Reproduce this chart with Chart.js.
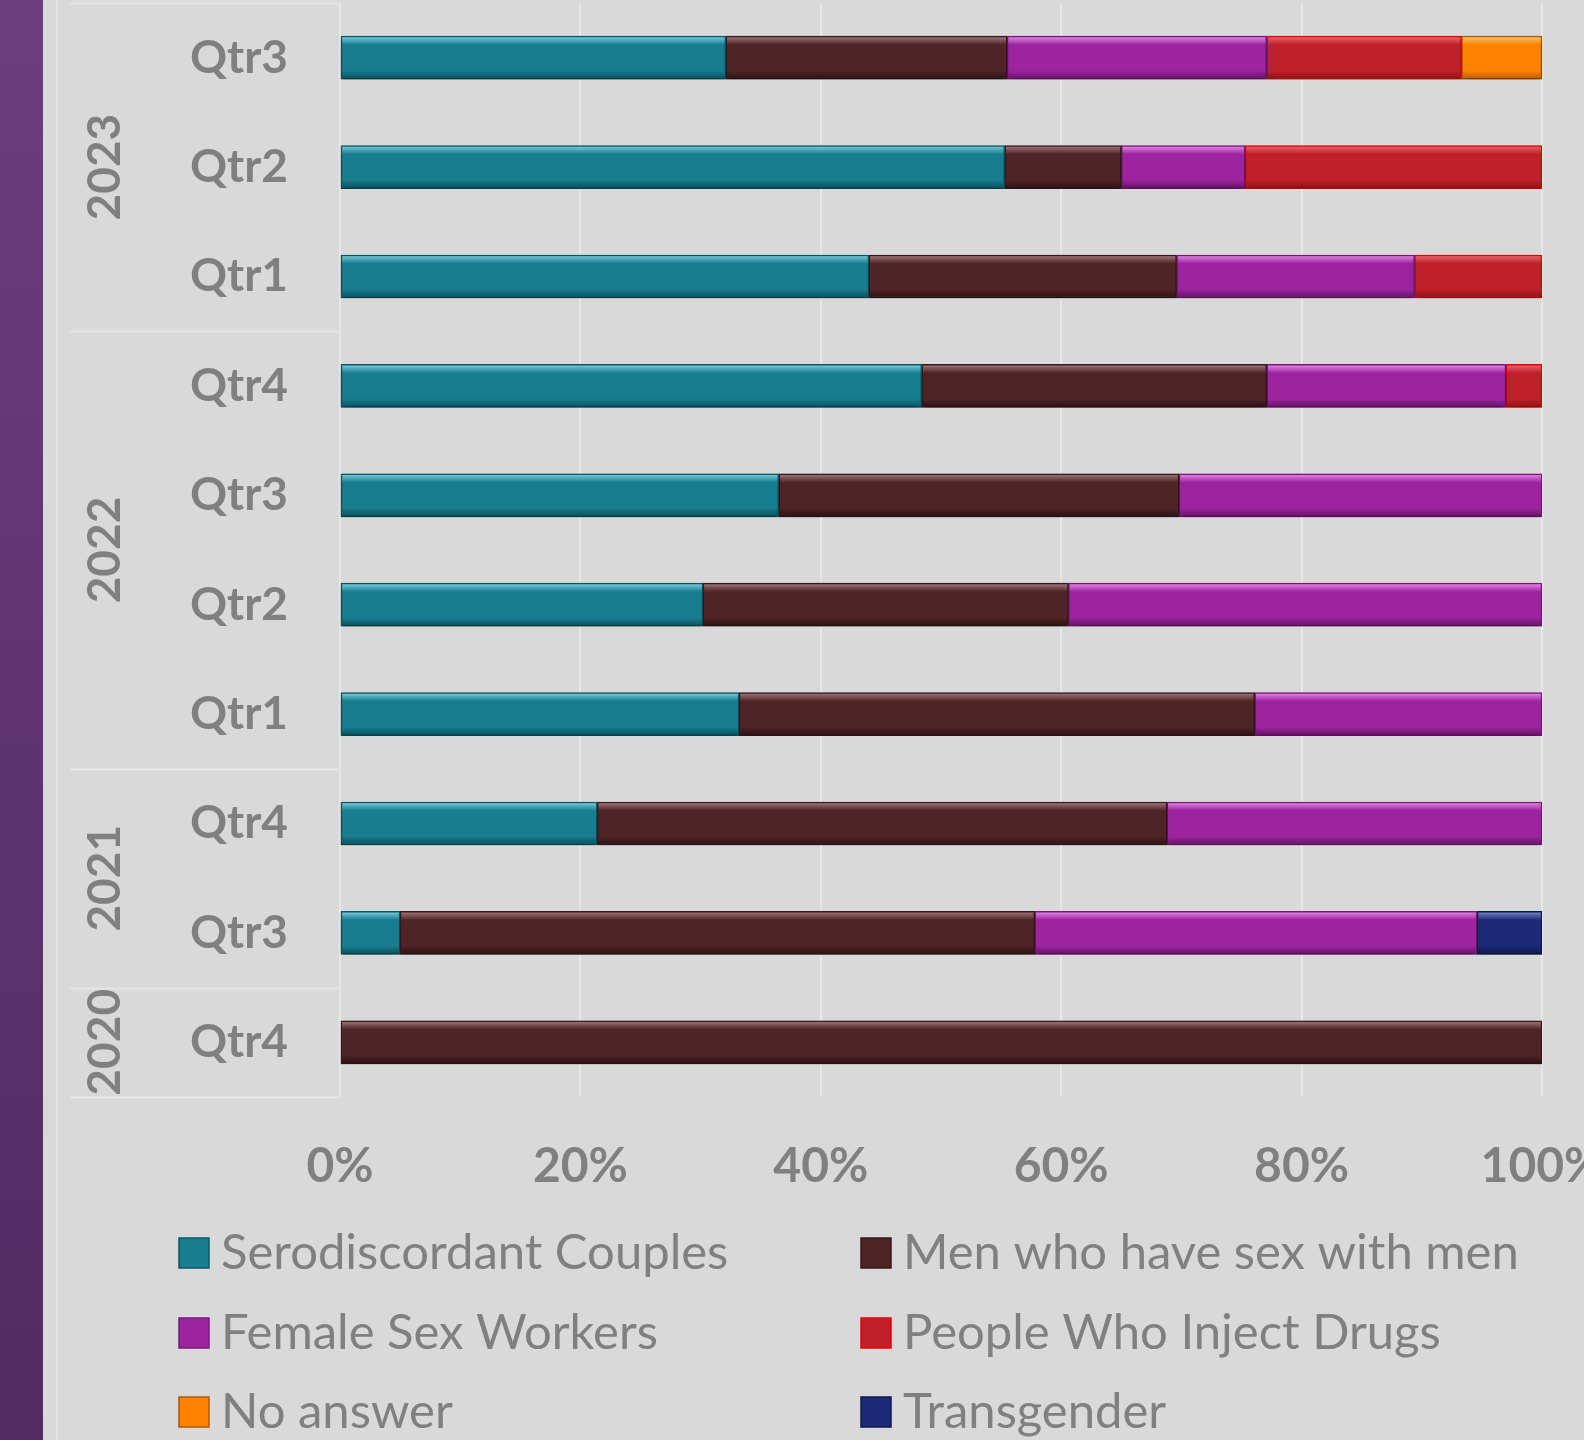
<!DOCTYPE html>
<html>
<head>
<meta charset="utf-8">
<script src="https://cdn.jsdelivr.net/npm/chart.js@4.4.1/dist/chart.umd.min.js"></script>
<style>
  html, body { margin: 0; padding: 0; background: #d9d9d9; }
  #wrap { width: 1584px; height: 1440px; position: relative; }
</style>
</head>
<body>
<div id="wrap"><canvas id="keyPopChart"></canvas></div>
<script>
// ---- data (top row first) ----
const years = ["2023", "2022", "2021", "2020"];
const yearSpans = [3, 4, 2, 1];
const quarters = ["Qtr3", "Qtr2", "Qtr1", "Qtr4", "Qtr3", "Qtr2", "Qtr1", "Qtr4", "Qtr3", "Qtr4"];
const serodiscordant = [32.1, 55.3, 44.0, 48.4, 36.5, 30.2, 33.2, 21.4, 5.0, null];
const msm            = [23.4, 9.7, 25.6, 28.7, 33.3, 30.4, 42.9, 47.4, 52.8, 100];
const fsw            = [21.6, 10.3, 19.8, 19.9, 30.2, 39.4, 23.9, 31.2, 36.8, null];
const pwid           = [16.2, 24.7, 10.6, 3.0, null, null, null, null, null, null];
const noAnswer       = [6.7, null, null, null, null, null, null, null, null, null];
const transgender    = [null, null, null, null, null, null, null, null, 5.4, null];
const xTicks = [0, 20, 40, 60, 80, 100];

const GREY = "#808080";
const FONT = "Lato";
const BAR_H = 43;

/* -------------------------------
   Bar fill with a little bevel
--------------------------------*/
function bevel(light, base, dark) {
  return c => {
    const y = c.chart.scales.y;
    if (!y || c.dataIndex === undefined) return base;
    const yc = y.getPixelForValue(c.dataIndex);
    if (!Number.isFinite(yc)) return base;
    const g = c.chart.ctx.createLinearGradient(0, yc - BAR_H / 2, 0, yc + BAR_H / 2);
    g.addColorStop(0, light);
    g.addColorStop(0.2, base);
    g.addColorStop(0.8, base);
    g.addColorStop(1, dark);
    return g;
  };
}

function series(label, data, light, base, dark, border) {
  return {
    label: label,
    data: data,
    swatch: base,
    swatchBorder: border,
    backgroundColor: bevel(light, base, dark),
    borderColor: border,
    borderWidth: 1.5,
    borderSkipped: false,
    barThickness: BAR_H
  };
}

const datasets = [
  series("Serodiscordant Couples", serodiscordant, "#7fd3e2", "#177d8f", "#0a4f5c", "#0d5a67"),
  series("Men who have sex with men", msm, "#a77c7e", "#4f2427", "#2e1113", "#3a1a1c"),
  series("Female Sex Workers", fsw, "#ea8cec", "#9c249f", "#661266", "#7a1a7d"),
  series("People Who Inject Drugs", pwid, "#ee6a70", "#bf2029", "#8c131a", "#f00000"),
  series("No answer", noAnswer, "#ffc87a", "#ff8200", "#bb5c00", "#b05a00"),
  series("Transgender", transgender, "#7d8dd0", "#1b2a78", "#0d184c", "#0d1a4a")
];

/* -------------------------------
   Page frame: purple band, guide line
--------------------------------*/
const framePlugin = {
  id: "frame",
  beforeDraw(chart) {
    const { ctx, height } = chart;
    ctx.save();
    const g = ctx.createLinearGradient(0, 0, 0, height);
    g.addColorStop(0, "#6a3e7f");
    g.addColorStop(1, "#512b62");
    ctx.fillStyle = g;
    ctx.fillRect(0, 0, 43, height);
    ctx.fillStyle = "#e2e2e2";
    ctx.fillRect(56, 0, 2, height);
    ctx.restore();
  }
};

/* -------------------------------
   Year groups on the category axis
--------------------------------*/
const yearGroupPlugin = {
  id: "yearGroups",
  afterDraw(chart) {
    const { ctx, chartArea } = chart;
    const y = chart.scales.y;
    const band = (chartArea.bottom - chartArea.top) / quarters.length;
    ctx.save();
    ctx.strokeStyle = "#e6e6e6";
    ctx.lineWidth = 2;
    let row = 0;
    const edges = [chartArea.top];
    years.forEach((yr, i) => {
      const top = chartArea.top + row * band;
      row += yearSpans[i];
      const bottom = chartArea.top + row * band;
      edges.push(bottom);
      ctx.save();
      ctx.translate(105, (top + bottom) / 2);
      ctx.rotate(-Math.PI / 2);
      ctx.fillStyle = GREY;
      ctx.font = `bold 46px ${FONT}`;
      ctx.textAlign = "center";
      ctx.textBaseline = "middle";
      ctx.fillText(yr, 0, 0);
      ctx.restore();
    });
    edges.forEach(e => {
      ctx.beginPath();
      ctx.moveTo(70, Math.round(e) + 0.5);
      ctx.lineTo(y.right - 2, Math.round(e) + 0.5);
      ctx.stroke();
    });
    ctx.restore();
  }
};

/* -------------------------------
   Two-column legend
--------------------------------*/
const legendPlugin = {
  id: "twoColLegend",
  afterDraw(chart) {
    const { ctx } = chart;
    const colX = [179, 861];
    const rowY = [1253, 1333, 1412];
    ctx.save();
    ctx.font = `49px ${FONT}`;
    ctx.textBaseline = "middle";
    chart.data.datasets.forEach((ds, i) => {
      const x = colX[i % 2];
      const yc = rowY[Math.floor(i / 2)];
      ctx.fillStyle = ds.swatch;
      ctx.fillRect(x, yc - 15, 30, 30);
      ctx.strokeStyle = ds.swatchBorder;
      ctx.lineWidth = 1.5;
      ctx.strokeRect(x, yc - 15, 30, 30);
      ctx.fillStyle = GREY;
      ctx.fillText(ds.label, x + 42, yc);
    });
    ctx.restore();
  }
};

const shadowPlugin = {
  id: "barShadow",
  beforeDatasetsDraw(chart) {
    const ctx = chart.ctx;
    ctx.save();
    ctx.shadowColor = "rgba(0,0,0,0.4)";
    ctx.shadowBlur = 8;
    ctx.shadowOffsetY = 4;
  },
  afterDatasetsDraw(chart) {
    chart.ctx.restore();
  }
};

document.addEventListener("DOMContentLoaded", () => {
  const ctx = document.getElementById("keyPopChart");

  new Chart(ctx, {
    type: "bar",
    data: { labels: quarters, datasets: datasets },
    plugins: [framePlugin, shadowPlugin, yearGroupPlugin, legendPlugin],
    options: {
      indexAxis: "y",
      responsive: true,
      maintainAspectRatio: false,
      animation: false,
      layout: { padding: { top: 3, right: 42, bottom: 0, left: 0 } },
      plugins: {
        legend: { display: false },
        tooltip: { enabled: false }
      },
      scales: {
        x: {
          stacked: true,
          min: 0,
          max: 100,
          afterBuildTicks: scale => {
            scale.ticks = xTicks.map(v => ({ value: v }));
          },
          afterFit: scale => {
            scale.height = 343;
            scale.paddingLeft = 0;
            scale.paddingRight = 0;
          },
          ticks: {
            color: GREY,
            font: { family: FONT, size: 48, weight: "bold" },
            padding: 41,
            maxRotation: 0,
            callback: v => `${v}%`
          },
          grid: { color: "#e6e6e6", lineWidth: 2, drawTicks: false },
          border: { display: false }
        },
        y: {
          stacked: true,
          afterFit: scale => {
            scale.width = 340;
            scale.paddingTop = 0;
            scale.paddingBottom = 0;
          },
          ticks: {
            color: GREY,
            font: { family: FONT, size: 46, weight: "bold" },
            padding: 52
          },
          grid: { display: false, drawTicks: false },
          border: { display: false }
        }
      }
    }
  });
});
</script>
</body>
</html>
